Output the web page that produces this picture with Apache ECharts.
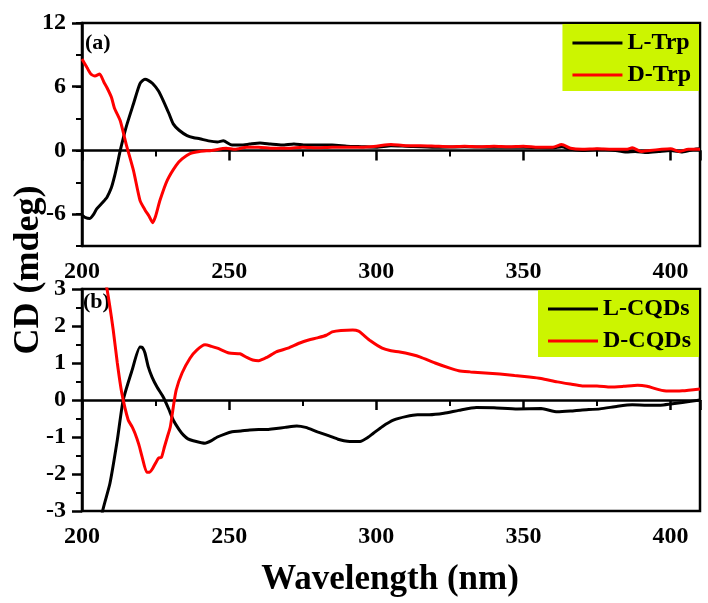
<!DOCTYPE html>
<html>
<head>
<meta charset="utf-8">
<script src="https://cdn.jsdelivr.net/npm/echarts@6/dist/echarts.min.js"></script>
<style>
	html, body { margin: 0; padding: 0; background: #fff; }
	#main { width: 708px; height: 603px; }
</style>
</head>
<body>
<div id="main"></div>
<script type="text/javascript">
	// (a) free tryptophan
	var lTrpWl = [200, 201, 202.7, 204, 205, 207, 208.5, 210, 211, 212, 213, 215, 217.5, 219.7, 221.4, 222.5, 224, 226, 227.6, 229.5, 231, 233, 235.7, 238, 240, 243, 246, 248, 251, 254, 257, 260.5, 264, 268, 272, 276, 280, 285, 290, 295, 300, 305, 310, 320, 330, 340, 350, 360, 363, 366, 370, 375, 380, 385, 388, 392, 396, 400, 404, 408, 410];
	var lTrp = [-6.1, -6.3, -6.4, -6.0, -5.5, -4.9, -4.4, -3.5, -2.5, -1.3, 0.0, 2.2, 4.4, 6.3, 6.7, 6.6, 6.3, 5.6, 4.7, 3.5, 2.5, 1.9, 1.4, 1.2, 1.1, 0.9, 0.8, 0.9, 0.5, 0.5, 0.6, 0.7, 0.6, 0.5, 0.6, 0.5, 0.5, 0.5, 0.4, 0.35, 0.3, 0.45, 0.4, 0.3, 0.35, 0.3, 0.3, 0.25, 0.35, 0.1, 0.0, 0.1, 0.05, -0.15, -0.1, -0.2, -0.1, 0.0, -0.15, 0.1, 0.15];
	var dTrpWl = [200, 201.7, 203, 204.4, 206, 207.5, 208.5, 210, 211, 213, 215, 217.5, 219.7, 221.4, 222.8, 224, 225, 226.5, 229, 232, 234, 236.7, 240, 244, 249, 252, 256, 260, 265, 270, 275, 280, 285, 290, 295, 300, 305, 310, 315, 320, 325, 330, 335, 340, 345, 350, 355, 360, 363, 366, 370, 375, 380, 385, 387, 390, 393, 397, 400, 403, 406, 410];
	var dTrp = [8.6, 7.8, 7.2, 7.0, 7.2, 6.4, 5.9, 5.0, 4.0, 2.8, 0.6, -1.9, -4.7, -5.6, -6.2, -6.8, -6.2, -4.7, -2.8, -1.4, -0.8, -0.3, -0.1, 0.0, 0.2, 0.1, 0.3, 0.3, 0.2, 0.2, 0.3, 0.25, 0.3, 0.3, 0.3, 0.4, 0.55, 0.45, 0.45, 0.4, 0.35, 0.4, 0.35, 0.4, 0.35, 0.4, 0.3, 0.3, 0.55, 0.2, 0.1, 0.15, 0.1, 0.1, 0.25, -0.1, 0.0, 0.1, 0.15, -0.1, 0.1, 0.1];

	// (b) carbon quantum dots
	var lCqdWl = [206, 207, 209.5, 212, 214, 217, 219.7, 220.5, 221.4, 222.5, 223.8, 225.5, 227.6, 229.5, 231, 233, 234.5, 236, 237.8, 241.8, 244, 246, 248.5, 251, 254, 257, 260, 263, 266, 269, 273, 276, 280, 284, 287, 289, 291, 294.5, 297, 299, 302, 306, 310, 314, 318, 323, 328, 334, 340, 348, 356, 361.5, 366, 370, 376, 382, 387, 392, 396.6, 400, 404, 410];
	var lCqd = [-3.6, -3.0, -2.25, -1.08, 0.0, 0.8, 1.43, 1.42, 1.27, 0.9, 0.62, 0.35, 0.08, -0.25, -0.54, -0.8, -0.95, -1.05, -1.1, -1.17, -1.1, -1.0, -0.92, -0.86, -0.84, -0.81, -0.8, -0.8, -0.77, -0.74, -0.7, -0.74, -0.86, -0.97, -1.06, -1.1, -1.12, -1.12, -1.02, -0.9, -0.72, -0.54, -0.45, -0.4, -0.4, -0.36, -0.28, -0.2, -0.21, -0.24, -0.23, -0.32, -0.3, -0.27, -0.24, -0.17, -0.13, -0.14, -0.14, -0.11, -0.07, 0.0];
	var dCqdWl = [207.5, 208.5, 210.6, 212, 213.5, 215.7, 217, 218, 219.3, 220.4, 222, 223, 224, 226, 227, 228, 229, 230, 231, 232, 234, 236.7, 239, 241.8, 244, 246, 250, 253.7, 256, 258, 260, 263, 266, 270, 274, 277, 280, 283, 285, 288, 292, 294, 295.6, 298, 302, 305, 308, 312, 315, 320, 325, 328, 332, 337, 342, 347, 352, 356, 361.5, 366, 370, 375, 379.6, 384, 388.8, 392, 396, 399, 404, 410];
	var dCqd = [3.3, 3.0, 1.9, 1.0, 0.2, -0.54, -0.72, -0.9, -1.2, -1.53, -1.95, -1.95, -1.85, -1.57, -1.55, -1.27, -1.0, -0.73, -0.2, 0.27, 0.73, 1.13, 1.35, 1.49, 1.45, 1.4, 1.27, 1.25, 1.15, 1.08, 1.06, 1.16, 1.3, 1.4, 1.54, 1.62, 1.68, 1.75, 1.84, 1.88, 1.89, 1.86, 1.76, 1.6, 1.4, 1.33, 1.3, 1.23, 1.16, 1.0, 0.86, 0.79, 0.76, 0.73, 0.7, 0.66, 0.62, 0.58, 0.49, 0.43, 0.38, 0.38, 0.35, 0.37, 0.4, 0.37, 0.28, 0.24, 0.25, 0.3];

	var topYLabels = [-6, 0, 6, 12];

	var FONT = 'Liberation Serif';

	function pairs(xs, ys) {
		var out = [];
		for (var i = 0; i < xs.length; i++) {
			out.push([xs[i], ys[i]]);
		}
		return out;
	}

	// shallow merge, b first then a on top
	function extend(a, b) {
		var o = {}, k;
		for (k in b) o[k] = b[k];
		for (k in a) o[k] = a[k];
		return o;
	}

	var lineAxis = { lineStyle: { color: '#000', width: 2.5 } };
	var tickLabel = { color: '#000', fontFamily: FONT, fontWeight: 'bold', fontSize: 24 };
	var legendText = { color: '#000', fontFamily: FONT, fontWeight: 'bold', fontSize: 24 };
	var majorTick = { length: 10, lineStyle: { color: '#000', width: 2.5 } };
	var minorTick = { show: true, splitNumber: 2, length: 6, lineStyle: { color: '#000', width: 2 } };

	function xAxisFor(gridIndex) {
		return {
			type: 'value',
			gridIndex: gridIndex,
			min: 200,
			max: 410,
			interval: 50,
			axisLine: lineAxis,
			axisTick: majorTick,
			minorTick: minorTick,
			axisLabel: extend({ margin: 14, showMaxLabel: false }, tickLabel),
			splitLine: { show: false }
		};
	}

	function legendFor(names, top) {
		return {
			data: names,
			orient: 'vertical',
			right: 9,
			top: top,
			backgroundColor: '#ccf500',
			padding: [7, 8, 4, 10],
			itemGap: 8,
			itemWidth: 50,
			itemHeight: 3,
			itemStyle: { borderWidth: 0 },
			icon: 'rect',
			textStyle: legendText
		};
	}

	var myChart = echarts.init(document.getElementById('main'));

	var option = {
		animation: false,
		grid: [
			{ left: 82, right: 8, top: 23, height: 223, show: true, borderColor: '#000', borderWidth: 2.5 },
			{ left: 82, right: 8, top: 289, height: 222, show: true, borderColor: '#000', borderWidth: 2.5 }
		],
		xAxis: [xAxisFor(0), xAxisFor(1)],
		yAxis: [
			{
				type: 'value',
				gridIndex: 0,
				min: -9,
				max: 12,
				interval: 3,
				axisLine: lineAxis,
				axisTick: { length: 6, lineStyle: { color: '#000', width: 2 } },
				axisLabel: extend({
					margin: 16,
					formatter: function (v) { return topYLabels.indexOf(v) >= 0 ? String(v) : ''; }
				}, tickLabel),
				splitLine: { show: false }
			},
			{
				// longer ticks under the labelled values
				type: 'value',
				gridIndex: 0,
				position: 'left',
				min: -9,
				max: 12,
				axisLine: { show: false },
				axisTick: { length: 10, customValues: topYLabels, lineStyle: { color: '#000', width: 2.5 } },
				axisLabel: { show: false },
				splitLine: { show: false }
			},
			{
				type: 'value',
				gridIndex: 1,
				min: -3,
				max: 3,
				interval: 1,
				axisLine: lineAxis,
				axisTick: majorTick,
				minorTick: minorTick,
				axisLabel: extend({ margin: 16 }, tickLabel),
				splitLine: { show: false }
			}
		],
		legend: [
			legendFor(['L-Trp', 'D-Trp'], 24),
			legendFor(['L-CQDs', 'D-CQDs'], 290)
		],
		graphic: [
			{ type: 'text', left: 85, top: 32, style: { text: '(a)', font: 'bold 22px "Liberation Serif"', fill: '#000' } },
			{ type: 'text', left: 83, top: 291, style: { text: '(b)', font: 'bold 22px "Liberation Serif"', fill: '#000' } },
			{ type: 'text', x: 29, y: 270, rotation: Math.PI / 2,
				style: { text: 'CD (mdeg)', font: 'bold 36px "Liberation Serif"', fill: '#000', align: 'center', verticalAlign: 'middle' } },
			{ type: 'text', x: 390, y: 580,
				style: { text: 'Wavelength (nm)', font: 'bold 35px "Liberation Serif"', fill: '#000', align: 'center', verticalAlign: 'middle' } }
		],
		series: [
			{ name: 'L-Trp', type: 'line', xAxisIndex: 0, yAxisIndex: 0, symbol: 'none', smooth: 0.2,
				lineStyle: { color: '#000', width: 3 }, itemStyle: { color: '#000' }, data: pairs(lTrpWl, lTrp) },
			{ name: 'D-Trp', type: 'line', xAxisIndex: 0, yAxisIndex: 0, symbol: 'none', smooth: 0.2,
				lineStyle: { color: '#ff0000', width: 3 }, itemStyle: { color: '#ff0000' }, data: pairs(dTrpWl, dTrp) },
			{ name: 'L-CQDs', type: 'line', xAxisIndex: 1, yAxisIndex: 2, symbol: 'none', smooth: 0.2,
				lineStyle: { color: '#000', width: 3 }, itemStyle: { color: '#000' }, data: pairs(lCqdWl, lCqd) },
			{ name: 'D-CQDs', type: 'line', xAxisIndex: 1, yAxisIndex: 2, symbol: 'none', smooth: 0.2,
				lineStyle: { color: '#ff0000', width: 3 }, itemStyle: { color: '#ff0000' }, data: pairs(dCqdWl, dCqd) }
		]
	};
	myChart.setOption(option);
</script>
</body>
</html>
